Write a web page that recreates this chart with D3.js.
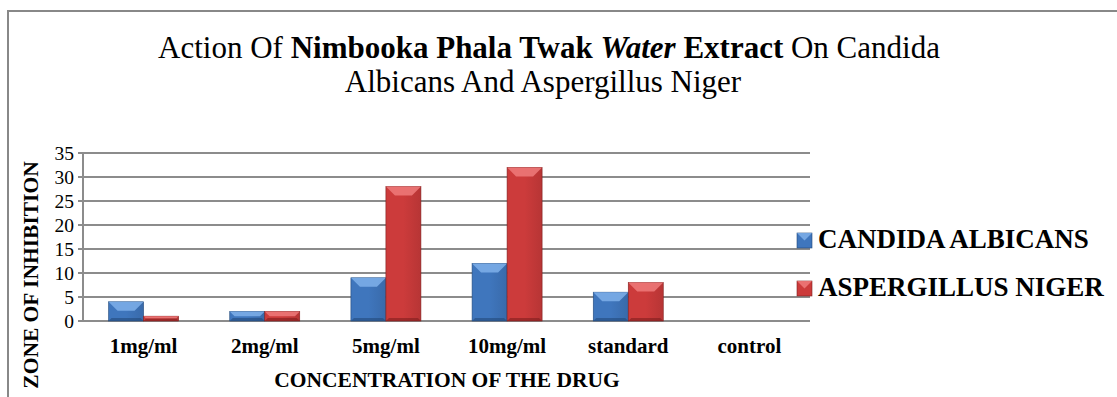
<!DOCTYPE html>
<html>
<head>
<meta charset="utf-8">
<script src="https://cdn.jsdelivr.net/npm/d3@7"></script>
<style>
  body { margin: 0; background: #fff; }
  svg { font-family: "Liberation Serif", "Times New Roman", serif; }
</style>
</head>
<body>
<script>
const W = 1117;
const H = 397;

const categories = ["1mg/ml", "2mg/ml", "5mg/ml", "10mg/ml", "standard", "control"];
const seriesNames = ["CANDIDA ALBICANS", "ASPERGILLUS NIGER"];
const candida = [4, 2, 9, 12, 6, 0];
const aspergillus = [1, 2, 28, 32, 8, 0];
const yTicks = [0, 5, 10, 15, 20, 25, 30, 35];

const colors = [
    {main: "#3f76bd", light: "#7fb0ea", dark: "#23497a"},
    {main: "#cc3b3b", light: "#ee7b7b", dark: "#7e1e1e"}
];

const table = categories.map((c, i) => ({cat: c, vals: [candida[i], aspergillus[i]]}));

const svg = d3.select("body").append("svg")
    .attr("width", W)
    .attr("height", H)
    .attr("font-family", "Liberation Serif, Times New Roman, serif");

// outer frame (only top and left visible)
svg.append("path")
    .attr("d", `M8,${H} L8,11 L${W},11`)
    .attr("fill", "none")
    .attr("stroke", "#888")
    .attr("stroke-width", 2);

// title
const title = svg.append("text")
    .attr("x", 549)
    .attr("y", 58)
    .attr("text-anchor", "middle")
    .style("font-size", "31px");
title.append("tspan").text("Action Of ");
title.append("tspan").style("font-weight", "bold").text("Nimbooka Phala Twak ");
title.append("tspan").style("font-weight", "bold").style("font-style", "italic").text("Water");
title.append("tspan").style("font-weight", "bold").text(" Extract");
title.append("tspan").text(" On Candida");
svg.append("text")
    .attr("x", 543)
    .attr("y", 92)
    .attr("text-anchor", "middle")
    .style("font-size", "31px")
    .text("Albicans And Aspergillus Niger");

const plotL = 83, plotR = 810, plotT = 153, plotB = 321;

const x = d3.scaleBand().domain(categories).range([plotL, plotR]);
const xs = d3.scaleBand().domain([0, 1]).range([0, 70]);
const y = d3.scaleLinear().domain([0, 35]).range([plotB, plotT]);

// gridlines
svg.append("g")
    .selectAll("line")
    .data(yTicks)
    .join("line")
    .attr("x1", plotL - 5)
    .attr("x2", plotR)
    .attr("y1", d => y(d))
    .attr("y2", d => y(d))
    .attr("stroke", "#8c8c8c")
    .attr("stroke-width", 2);

// y axis line
svg.append("line")
    .attr("x1", plotL).attr("x2", plotL)
    .attr("y1", plotT).attr("y2", plotB)
    .attr("stroke", "#8c8c8c")
    .attr("stroke-width", 2);

// y tick labels
svg.append("g")
    .selectAll("text")
    .data(yTicks)
    .join("text")
    .attr("x", plotL - 9)
    .attr("y", d => y(d) + 6.5)
    .attr("text-anchor", "end")
    .style("font-size", "19.5px")
    .text(d => d);

// bars with a simple bevel
const defs = svg.append("defs");
colors.forEach((c, i) => {
    const g = defs.append("linearGradient")
        .attr("id", "grad" + i)
        .attr("x1", 0).attr("x2", 1).attr("y1", 0).attr("y2", 0);
    g.append("stop").attr("offset", "0%").attr("stop-color", c.main);
    g.append("stop").attr("offset", "50%").attr("stop-color", c.main);
    g.append("stop").attr("offset", "100%").attr("stop-color", d3.color(c.main).darker(0.3));
});

const groups = svg.append("g")
    .selectAll("g")
    .data(table)
    .join("g")
    .attr("transform", d => `translate(${x(d.cat) + (x.bandwidth() - 70) / 2},0)`);

const bars = groups.selectAll("g")
    .data(d => d.vals.map((v, i) => ({v, i})).filter(e => e.v > 0))
    .join("g");

bars.append("rect")
    .attr("x", d => xs(d.i))
    .attr("y", d => y(d.v))
    .attr("width", xs.bandwidth())
    .attr("height", d => y(0) - y(d.v))
    .attr("fill", d => `url(#grad${d.i})`)
    .attr("stroke", d => colors[d.i].dark)
    .attr("stroke-width", 0.6);

// bevel: top face lighter
bars.append("path")
    .attr("d", d => {
        const x0 = xs(d.i), x1 = x0 + xs.bandwidth();
        const y0 = y(d.v);
        const b = Math.min(9, (y(0) - y0) / 2);
        return `M${x0},${y0} L${x1},${y0} L${x1 - b},${y0 + b} L${x0 + b},${y0 + b} Z`;
    })
    .attr("fill", d => colors[d.i].light)
    .attr("opacity", 0.85);

// bevel: bottom darker strip
bars.append("path")
    .attr("d", d => {
        const x0 = xs(d.i), x1 = x0 + xs.bandwidth();
        const y1 = y(0);
        const b = Math.min(3, (y(0) - y(d.v)) / 2);
        return `M${x0},${y1} L${x1},${y1} L${x1 - b},${y1 - b} L${x0 + b},${y1 - b} Z`;
    })
    .attr("fill", d => colors[d.i].dark)
    .attr("opacity", 0.6);

// x tick labels
svg.append("g")
    .selectAll("text")
    .data(categories)
    .join("text")
    .attr("x", d => x(d) + x.bandwidth() / 2)
    .attr("y", 353)
    .attr("text-anchor", "middle")
    .style("font-size", "21px")
    .style("font-weight", "bold")
    .text(d => d);

// axis titles
svg.append("text")
    .attr("x", 447)
    .attr("y", 387)
    .attr("text-anchor", "middle")
    .style("font-size", "21.5px")
    .style("font-weight", "bold")
    .text("CONCENTRATION OF THE DRUG");

svg.append("text")
    .attr("transform", "translate(38,275) rotate(-90)")
    .attr("text-anchor", "middle")
    .style("font-size", "21.5px")
    .style("font-weight", "bold")
    .text("ZONE OF INHIBITION");

// legend
const legend = svg.append("g")
    .selectAll("g")
    .data(seriesNames)
    .join("g")
    .attr("transform", (d, i) => `translate(797,${233 + i * 48})`);

legend.append("rect")
    .attr("width", 15)
    .attr("height", 15)
    .attr("fill", (d, i) => colors[i].main)
    .attr("stroke", (d, i) => colors[i].dark)
    .attr("stroke-width", 0.6);
legend.append("path")
    .attr("d", "M0,0 L15,0 L7.5,7.5 Z")
    .attr("fill", (d, i) => colors[i].light)
    .attr("opacity", 0.85);

legend.append("text")
    .attr("x", 21)
    .attr("y", 15)
    .style("font-size", "27px")
    .style("font-weight", "bold")
    .text(d => d);
</script>
</body>
</html>
